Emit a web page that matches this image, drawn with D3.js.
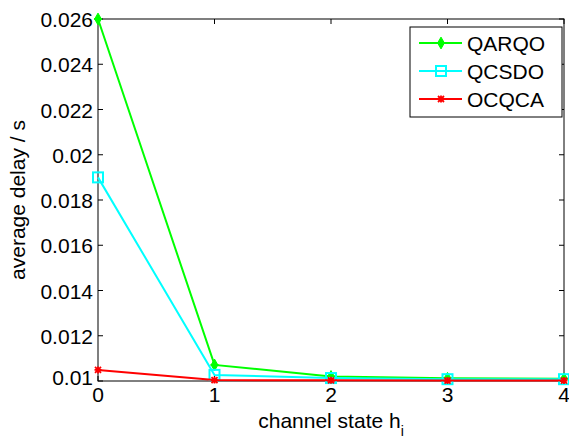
<!DOCTYPE html>
<html><head><meta charset="utf-8">
<script src="https://cdn.jsdelivr.net/npm/d3@7"></script>
<style>body{margin:0;background:#fff}svg text{font-family:"Liberation Sans",Arial,sans-serif;fill:#000}</style>
</head><body><svg id="c" width="569" height="439"></svg>
<script>
const xVals = [0, 1, 2, 3, 4];
const qarqo = [0.026, 0.01071, 0.0102, 0.01012, 0.0101];
const qcsdo = [0.019, 0.01027, 0.01013, 0.01008, 0.01008];
const ocqca = [0.01049, 0.01004, 0.01003, 0.01002, 0.01002];
const yTicks = [0.01, 0.012, 0.014, 0.016, 0.018, 0.02, 0.022, 0.024, 0.026];
const yTickLabels = ["0.01", "0.012", "0.014", "0.016", "0.018", "0.02", "0.022", "0.024", "0.026"];
const seriesNames = ["QARQO", "QCSDO", "OCQCA"];
const seriesColors = ["#00ff00", "#00ffff", "#ff0000"];
const seriesMarkers = ["diamond", "square", "star"];

const svg = d3.select("#c");
const L = 98, R = 564, T = 19, B = 381;
const x = d3.scaleLinear().domain([0, 4]).range([L, R]);
const y = d3.scaleLinear().domain([0.01, 0.026]).range([B, T]);
const fs = "21px";

svg.append("rect").attr("x", L).attr("y", T).attr("width", R - L).attr("height", B - T)
  .attr("fill", "none").attr("stroke", "#000").attr("stroke-width", 1);

const tl = 5;
xVals.forEach(v => {
  svg.append("line").attr("x1", x(v)).attr("x2", x(v)).attr("y1", B).attr("y2", B - tl).attr("stroke", "#000");
  svg.append("line").attr("x1", x(v)).attr("x2", x(v)).attr("y1", T).attr("y2", T + tl).attr("stroke", "#000");
  svg.append("text").attr("x", x(v)).attr("y", B + 21).attr("text-anchor", "middle").style("font-size", fs).text(v);
});
yTicks.forEach((v, i) => {
  svg.append("line").attr("x1", L).attr("x2", L + tl).attr("y1", y(v)).attr("y2", y(v)).attr("stroke", "#000");
  svg.append("line").attr("x1", R).attr("x2", R - tl).attr("y1", y(v)).attr("y2", y(v)).attr("stroke", "#000");
  svg.append("text").attr("x", L - 5).attr("y", y(v) + (i === 0 ? 4 : 8)).attr("text-anchor", "end").style("font-size", fs).text(yTickLabels[i]);
});

const xl = svg.append("text").attr("x", x(2)).attr("y", 428).attr("text-anchor", "middle").style("font-size", fs);
xl.append("tspan").text("channel state h");
xl.append("tspan").attr("dy", 8).style("font-size", "14px").text("i");
svg.append("text").attr("transform", `translate(25,${(T + B) / 2}) rotate(-90)`).attr("text-anchor", "middle")
  .style("font-size", fs).text("average delay / s");

const line = d3.line().x((d, i) => x(xVals[i])).y(d => y(d));

function marker(g, type, cx, cy, color) {
  if (type === "diamond") {
    g.append("path").attr("d", d3.symbol().type(d3.symbolDiamond).size(40)()).attr("transform", `translate(${cx},${cy})`).attr("fill", color).attr("stroke", color);
    g.append("path").attr("d", `M${cx-4},${cy}H${cx+4}M${cx},${cy-4}V${cy+4}`).attr("stroke", color).attr("stroke-width", 2);
  } else if (type === "square") {
    g.append("rect").attr("x", cx - 5).attr("y", cy - 5).attr("width", 10).attr("height", 10).attr("fill", "none").attr("stroke", color).attr("stroke-width", 2);
  } else {
    g.append("path").attr("d", `M${cx-3},${cy-3}L${cx+3},${cy+3}M${cx-3},${cy+3}L${cx+3},${cy-3}M${cx-3.5},${cy}H${cx+3.5}M${cx},${cy-3.5}V${cy+3.5}`)
      .attr("stroke", color).attr("stroke-width", 1.8);
  }
}

[qarqo, qcsdo, ocqca].forEach((s, k) => {
  const g = svg.append("g");
  g.append("path").datum(s).attr("d", line).attr("fill", "none").attr("stroke", seriesColors[k]).attr("stroke-width", 2);
  s.forEach((v, i) => marker(g, seriesMarkers[k], x(xVals[i]), y(v), seriesColors[k]));
});

const lg = svg.append("g");
lg.append("rect").attr("x", 410).attr("y", 27).attr("width", 152).attr("height", 90).attr("fill", "#fff").attr("stroke", "#000");
seriesNames.forEach((n, k) => {
  const yy = 43 + k * 28;
  lg.append("line").attr("x1", 419).attr("x2", 462).attr("y1", yy).attr("y2", yy).attr("stroke", seriesColors[k]).attr("stroke-width", 2);
  marker(lg, seriesMarkers[k], 441, yy, seriesColors[k]);
  lg.append("text").attr("x", 467).attr("y", yy + 8).style("font-size", fs).text(n);
});
</script></body></html>
